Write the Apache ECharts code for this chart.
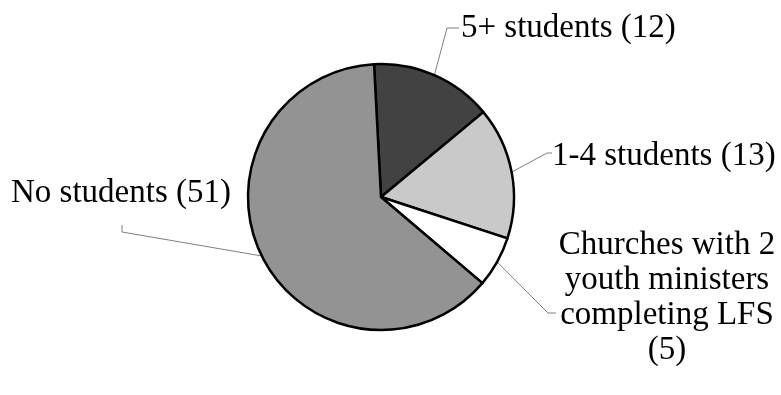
<!DOCTYPE html>
<html>
<head>
<meta charset="utf-8">
<script src="https://cdn.jsdelivr.net/npm/echarts@6/dist/echarts.min.js"></script>
<style>
  html, body { margin: 0; padding: 0; background: #fff; }
  #chart { width: 781px; height: 395px; }
</style>
</head>
<body>
<div id="chart"></div>
<script>
// Youth ministry survey: churches by number of students
const categories = [
  '5+ students',
  '1-4 students',
  'Churches with 2\nyouth ministers\ncompleting LFS',
  'No students'
];
const counts = [12, 13, 5, 51];
const sliceColors = ['#424242', '#c9c9c9', '#ffffff', '#939393'];

// Where each label sits and how its leader line bends (pixel layout only)
const labelPlacement = [
  { x: 461, y: 28, align: 'left', bend: [447, 28], end: [459, 28] },
  { x: 552, y: 156, align: 'left', bend: [547, 153], end: [552, 153] },
  { x: 667, y: 298, align: 'center', bend: [548, 313], end: [556, 313] },
  { x: 231, y: 193, align: 'right', bend: [122, 232], end: [122, 225] }
];

const chart = echarts.init(document.getElementById('chart'), null, { renderer: 'canvas' });

chart.setOption({
  animation: false,
  backgroundColor: '#ffffff',
  series: [{
    type: 'pie',
    center: [381, 197],
    radius: 133,
    startAngle: 93,
    clockwise: true,
    avoidLabelOverlap: false,
    data: categories.map((name, i) => ({
      name: name,
      value: counts[i],
      itemStyle: { color: sliceColors[i] }
    })),
    itemStyle: { borderColor: '#000', borderWidth: 2.5 },
    label: {
      show: true,
      position: 'outside',
      formatter: (p) => p.name.indexOf('\n') >= 0 ? p.name + '\n(' + p.value + ')' : p.name + ' (' + p.value + ')',
      fontFamily: '"Liberation Serif", "Times New Roman", serif',
      fontSize: 33,
      lineHeight: 35,
      color: '#000'
    },
    labelLine: {
      show: true,
      length: 20,
      length2: 10,
      lineStyle: { color: '#7f7f7f', width: 1 }
    },
    emphasis: { disabled: true },
    labelLayout: (params) => {
      const p = labelPlacement[params.dataIndex];
      const start = params.labelLinePoints ? params.labelLinePoints[0] : p.bend;
      return {
        x: p.x,
        y: p.y,
        align: p.align,
        verticalAlign: 'middle',
        labelLinePoints: [start, p.bend, p.end]
      };
    }
  }]
});
</script>
</body>
</html>
